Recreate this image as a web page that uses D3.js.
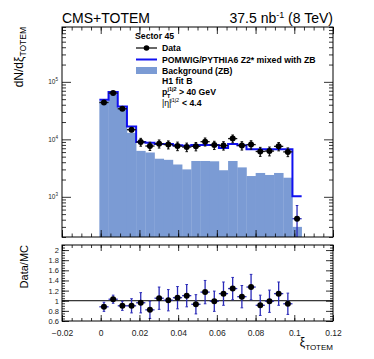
<!DOCTYPE html>
<html>
<head>
<meta charset="utf-8">
<script src="https://cdn.jsdelivr.net/npm/d3@7"></script>
<style>
body { margin: 0; background: #fff; }
text { font-family: "Liberation Sans", Arial, sans-serif; }
</style>
</head>
<body>
<div id="chart"></div>
<script>
// bins in xi_TOTEM
const binLow = -0.0007;
const binWidth = 0.00475;

// top panel
const dataVals = [43700, 63700, 34000, 14700, 9000, 7650, 8400, 8100, 7650, 7350, 7550, 9100, 7950, 7800, 10300, 7800, 8100, 6150, 6250, 7550, 6050, 416];
const dataErr  = [1800, 2200, 1500, 1200, 1400, 1250, 1350, 1300, 1300, 1250, 1250, 1450, 1300, 1300, 1600, 1300, 1350, 1100, 1100, 1250, 1050, 290];
const mcVals   = [48700, 66300, 37300, 16800, 9000, 8700, 8300, 8300, 7900, 7700, 8000, 8000, 8000, 7100, 8300, 7900, 6750, 6700, 6700, 6700, 6700, 1020];
const bkgVals  = [46500, 63000, 35500, 13000, 6300, 5900, 4600, 4400, 3650, 3000, 4200, 4200, 4150, 2900, 4200, 3250, 2300, 2600, 2400, 2600, 2150, 300];

// ratio panel
const ratioVals = [0.88, 1.03, 0.9, 0.9, 0.96, 0.82, 1.05, 1.01, 1.06, 1.1, 0.93, 1.17, 0.99, 1.14, 1.24, 1.08, 1.27, 0.91, 0.99, 1.14, 0.94];
const ratioErr  = [0.09, 0.08, 0.09, 0.14, 0.2, 0.17, 0.22, 0.21, 0.22, 0.22, 0.19, 0.23, 0.2, 0.23, 0.22, 0.22, 0.25, 0.2, 0.22, 0.23, 0.21];

const xTicks = [-0.02, 0, 0.02, 0.04, 0.06, 0.08, 0.1, 0.12];
const xTickLabels = ["\u22120.02", "0", "0.02", "0.04", "0.06", "0.08", "0.1", "0.12"];
const ratioTicks = [0.6, 0.8, 1, 1.2, 1.4, 1.6, 1.8, 2];
const ratioTickLabels = ["0.6", "0.8", "1", "1.2", "1.4", "1.6", "1.8", "2"];
const logTicks = [1e3, 1e4, 1e5];
const logTickExp = ["3", "4", "5"];

const legendItems = ["Data", "POMWIG/PYTHIA6 Z2* mixed with ZB", "Background (ZB)"];

const W = 374, H = 359;
const L = 62, R = 333;
const topT = 27, topB = 237, ratT = 245, ratB = 321;
const lineBlue = "#1010f0", fillBlue = "#7b9bd4", errBlue = "#2a2ab8";

const svg = d3.select("#chart").append("svg")
    .attr("width", W)
    .attr("height", H);

const x = d3.scaleLinear().domain([-0.02, 0.12]).range([L, R]);
const y = d3.scaleLog().domain([200, 9e5]).range([topB, topT]);
const yr = d3.scaleLinear().domain([0.6, 2.1]).range([ratB, ratT]);

const lo = i => binLow + i * binWidth;
const mid = i => binLow + (i + 0.5) * binWidth;

svg.append("defs").append("clipPath").attr("id", "clipTop")
    .append("rect").attr("x", L).attr("y", topT).attr("width", R - L).attr("height", topB - topT);
svg.select("defs").append("clipPath").attr("id", "clipRat")
    .append("rect").attr("x", L).attr("y", ratT).attr("width", R - L).attr("height", ratB - ratT);

// ---------- top panel ----------
const gTop = svg.append("g").attr("clip-path", "url(#clipTop)");

gTop.selectAll("rect.bkg")
    .data(bkgVals)
    .join("rect")
    .attr("class", "bkg")
    .attr("x", (d, i) => x(lo(i)))
    .attr("width", (d, i) => x(lo(i + 1)) - x(lo(i)) + 0.3)
    .attr("y", d => y(d))
    .attr("height", d => topB - y(d))
    .attr("fill", fillBlue);

const mcPts = mcVals.map((d, i) => [lo(i), d]);
mcPts.push([lo(mcVals.length), mcVals[mcVals.length - 1]]);
gTop.append("path")
    .datum(mcPts)
    .attr("fill", "none")
    .attr("stroke", lineBlue)
    .attr("stroke-width", 2)
    .attr("d", d3.line().x(d => x(d[0])).y(d => y(d[1])).curve(d3.curveStepAfter));

function drawPoints(g, vals, errs, ys, colFn) {
    const pts = g.append("g");
    vals.forEach((v, i) => {
        const col = colFn(i);
        const cx = x(mid(i)), cy = ys(v);
        const y1 = ys(Math.max(v - errs[i], ys.domain()[0] * 0.5)), y2 = ys(v + errs[i]);
        pts.append("line").attr("x1", x(lo(i))).attr("x2", x(lo(i + 1)))
            .attr("y1", cy).attr("y2", cy).attr("stroke", col).attr("stroke-width", 1.3);
        pts.append("line").attr("x1", cx).attr("x2", cx)
            .attr("y1", y1).attr("y2", y2).attr("stroke", col).attr("stroke-width", 1.3);
        pts.append("line").attr("x1", cx - 1.3).attr("x2", cx + 1.3)
            .attr("y1", y2).attr("y2", y2).attr("stroke", col).attr("stroke-width", 1);
        pts.append("line").attr("x1", cx - 1.3).attr("x2", cx + 1.3)
            .attr("y1", y1).attr("y2", y1).attr("stroke", col).attr("stroke-width", 1);
        pts.append("circle").attr("cx", cx).attr("cy", cy).attr("r", 3).attr("fill", "#000");
    });
}
drawPoints(gTop, dataVals, dataErr, y, i => i === dataVals.length - 1 ? errBlue : "#111");

// ---------- ratio panel ----------
const gRat = svg.append("g").attr("clip-path", "url(#clipRat)");
gRat.append("line")
    .attr("x1", L).attr("x2", R).attr("y1", yr(1)).attr("y2", yr(1))
    .attr("stroke", "#000").attr("stroke-width", 1);
drawPoints(gRat, ratioVals, ratioErr, yr, () => errBlue);

// ---------- axes (ticks inside, ROOT style) ----------
function range(a, b, s) { const r = []; for (let v = a; v <= b + 1e-9; v += s) r.push(+v.toFixed(4)); return r; }
const xMinor = range(-0.02, 0.12, 0.005);
const logMinor = [];
[100, 1000, 10000, 100000].forEach(dec => { for (let k = 2; k <= 9; k++) logMinor.push(dec * k); });
const ratMinor = range(0.6, 2.1, 0.05);

function styleAxis(g) {
    g.select(".domain").remove();
    g.selectAll("line").attr("stroke", "#000").attr("stroke-width", 0.8);
    g.selectAll("text").attr("fill", "#222");
}

// top panel: x ticks on bottom (no labels) and top
[[topB, d3.axisBottom], [topT, d3.axisTop]].forEach(([yy, ax]) => {
    svg.append("g").attr("transform", `translate(0,${yy})`)
        .call(ax(x).tickValues(xMinor).tickSize(-3.5).tickFormat("")).call(styleAxis);
    svg.append("g").attr("transform", `translate(0,${yy})`)
        .call(ax(x).tickValues(xTicks).tickSize(-7).tickFormat("")).call(styleAxis);
});
// ratio x ticks
svg.append("g").attr("transform", `translate(0,${ratB})`)
    .call(d3.axisBottom(x).tickValues(xMinor).tickSize(-3).tickFormat("")).call(styleAxis);
svg.append("g").attr("transform", `translate(0,${ratB})`)
    .call(d3.axisBottom(x).tickValues(xTicks).tickSize(-6).tickPadding(9)
        .tickFormat((d, i) => xTickLabels[i])).call(styleAxis)
    .selectAll("text").attr("font-size", 8.5);
svg.append("g").attr("transform", `translate(0,${ratT})`)
    .call(d3.axisTop(x).tickValues(xMinor).tickSize(-3).tickFormat("")).call(styleAxis);
svg.append("g").attr("transform", `translate(0,${ratT})`)
    .call(d3.axisTop(x).tickValues(xTicks).tickSize(-6).tickFormat("")).call(styleAxis);

// top panel log y
[[L, d3.axisLeft], [R, d3.axisRight]].forEach(([xx, ax]) => {
    svg.append("g").attr("transform", `translate(${xx},0)`)
        .call(ax(y).tickValues(logMinor).tickSize(-4).tickFormat("")).call(styleAxis);
    svg.append("g").attr("transform", `translate(${xx},0)`)
        .call(ax(y).tickValues(logTicks).tickSize(-9).tickFormat("")).call(styleAxis);
});
const logLab = svg.append("g").attr("transform", `translate(${L},0)`)
    .call(d3.axisLeft(y).tickValues(logTicks).tickSize(0).tickPadding(4).tickFormat("")).call(styleAxis);
logLab.selectAll(".tick text")
    .attr("font-size", 6.5)
    .each(function (d, i) {
        const t = d3.select(this);
        t.append("tspan").text("10");
        t.append("tspan").attr("dy", -3).attr("font-size", 4.5).text(logTickExp[i]);
    });

// ratio y
[[L, d3.axisLeft], [R, d3.axisRight]].forEach(([xx, ax]) => {
    svg.append("g").attr("transform", `translate(${xx},0)`)
        .call(ax(yr).tickValues(ratMinor).tickSize(-3).tickFormat("")).call(styleAxis);
    svg.append("g").attr("transform", `translate(${xx},0)`)
        .call(ax(yr).tickValues(ratioTicks).tickSize(-7).tickFormat("")).call(styleAxis);
});
svg.append("g").attr("transform", `translate(${L},0)`)
    .call(d3.axisLeft(yr).tickValues(ratioTicks).tickSize(0).tickPadding(3)
        .tickFormat((d, i) => ratioTickLabels[i])).call(styleAxis)
    .selectAll("text").attr("font-size", 7.5);

// frames
[[topT, topB], [ratT, ratB]].forEach(([a, b]) => {
    svg.append("rect").attr("x", L).attr("y", a).attr("width", R - L).attr("height", b - a)
        .attr("fill", "none").attr("stroke", "#000").attr("stroke-width", 1);
});

// ---------- titles ----------
svg.append("text").attr("x", L).attr("y", 23).attr("font-size", 14).text("CMS+TOTEM");
const lumi = svg.append("text").attr("x", R).attr("y", 23).attr("font-size", 14).attr("text-anchor", "end");
lumi.append("tspan").text("37.5 nb");
lumi.append("tspan").attr("dy", -5).attr("font-size", 9).text("-1");
lumi.append("tspan").attr("dy", 5).text(" (8 TeV)");

const yl = svg.append("text").attr("transform", `translate(23,${topT}) rotate(-90)`)
    .attr("text-anchor", "end").attr("font-size", 12);
yl.append("tspan").text("dN/d\u03be");
yl.append("tspan").attr("dy", 3).attr("font-size", 8.5).text("TOTEM");

svg.append("text").attr("transform", `translate(28,${ratT}) rotate(-90)`)
    .attr("text-anchor", "end").attr("font-size", 11).text("Data/MC");

const xl = svg.append("text").attr("x", R).attr("y", 346).attr("text-anchor", "end").attr("font-size", 12);
xl.append("tspan").text("\u03be");
xl.append("tspan").attr("dy", 4).attr("font-size", 8).text("TOTEM");

// ---------- legend ----------
const lg = svg.append("g").attr("font-weight", "bold").attr("font-size", 8.7);
lg.append("text").attr("x", 135).attr("y", 39).text("Sector 45");
const rowY = [48, 59.5, 70.5];
lg.append("line").attr("x1", 136).attr("x2", 157).attr("y1", rowY[0]).attr("y2", rowY[0])
    .attr("stroke", "#000").attr("stroke-width", 1.2);
lg.append("circle").attr("cx", 146.5).attr("cy", rowY[0]).attr("r", 2.8).attr("fill", "#000");
lg.append("line").attr("x1", 136).attr("x2", 157).attr("y1", rowY[1]).attr("y2", rowY[1])
    .attr("stroke", lineBlue).attr("stroke-width", 2);
lg.append("rect").attr("x", 136).attr("y", rowY[2] - 3.5).attr("width", 21).attr("height", 7).attr("fill", fillBlue);
legendItems.forEach((t, i) => {
    lg.append("text").attr("x", 162).attr("y", rowY[i] + 3).text(t);
});
lg.append("text").attr("x", 162).attr("y", 84).text("H1 fit B");
lg.append("text").attr("x", 162).attr("y", 95).text("p");
lg.append("text").attr("x", 167.5).attr("y", 91).attr("font-size", 5.5).text("j1j2");
lg.append("text").attr("x", 167).attr("y", 97.5).attr("font-size", 5.5).text("T");
lg.append("text").attr("x", 179).attr("y", 95).text("> 40 GeV");
lg.append("text").attr("x", 162).attr("y", 106).attr("font-weight", "normal").text("|\u03b7|");
lg.append("text").attr("x", 170.5).attr("y", 102).attr("font-size", 5.5).attr("font-weight", "normal").text("j1j2");
lg.append("text").attr("x", 182).attr("y", 106).text("< 4.4");
</script>
</body>
</html>
